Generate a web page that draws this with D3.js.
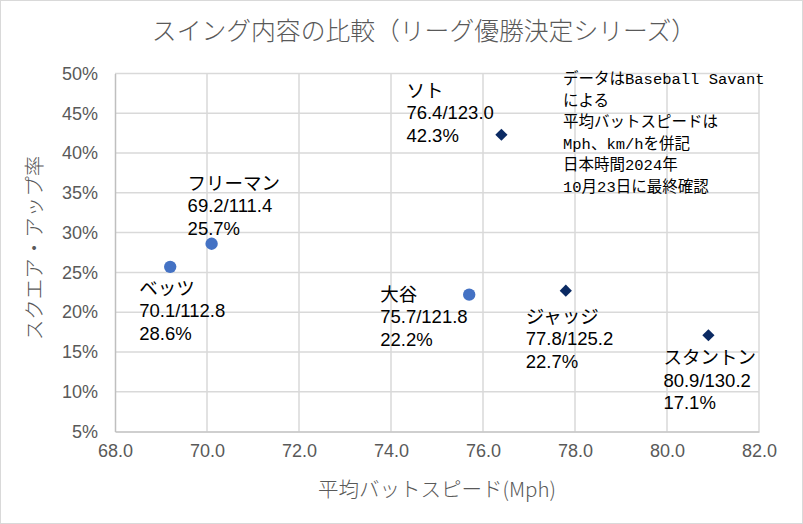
<!DOCTYPE html>
<html><head><meta charset="utf-8">
<script src="https://cdn.jsdelivr.net/npm/d3@7"></script>
<style>
body{margin:0;background:#fff;}
svg{display:block;}
</style></head>
<body>
<svg id="chart" width="803" height="524"></svg>
<script>
// ---- data ----
const players = ["ベッツ", "フリーマン", "大谷", "ソト", "ジャッジ", "スタントン"];
const batSpeedMph = [69.2, 70.1, 75.7, 76.4, 77.8, 80.9];
const squareUpRate = [25.7, 28.6, 22.2, 42.3, 22.7, 17.1];
const seriesGroup = ["NL", "NL", "NL", "AL", "AL", "AL"];
// label texts as shown on the chart (attached to each point)
const labelName = ["ベッツ", "フリーマン", "大谷", "ソト", "ジャッジ", "スタントン"];
const labelSpeed = ["70.1/112.8", "69.2/111.4", "75.7/121.8", "76.4/123.0", "77.8/125.2", "80.9/130.2"];
const labelRate = ["28.6%", "25.7%", "22.2%", "42.3%", "22.7%", "17.1%"];
const xTicks = [68, 70, 72, 74, 76, 78, 80, 82];
const yTicks = [5, 10, 15, 20, 25, 30, 35, 40, 45, 50];
const noteLines = ["データはBaseball Savant", "による", "平均バットスピードは", "Mph、km/hを併記", "日本時間2024年", "10月23日に最終確認"];
const titleText = "スイング内容の比較（リーグ優勝決定シリーズ）";
const xTitle = "平均バットスピード(Mph)";
const yTitle = "スクエア・アップ率";

// ---- layout ----
const W = 803, H = 524;
const plot = {left: 115, right: 759, top: 73.5, bottom: 431.5};
// label offsets relative to each point [dx, dy of first line center]
const labelOffset = [[-31, 21], [-24, -61], [-89, -1], [-95, -45], [-40, 25], [-45, 22]];

const svg = d3.select("#chart");
svg.append("rect").attr("x", 0.5).attr("y", 0.5).attr("width", W - 1).attr("height", H - 1)
  .attr("fill", "#fff").attr("stroke", "#D9D9D9");

const x = d3.scaleLinear().domain([68, 82]).range([plot.left, plot.right]);
const y = d3.scaleLinear().domain([5, 50]).range([plot.bottom, plot.top]);

// gridlines
svg.append("g").selectAll("line").data(yTicks.slice(1)).join("line")
  .attr("x1", plot.left).attr("x2", plot.right)
  .attr("y1", d => y(d)).attr("y2", d => y(d))
  .attr("stroke", "#D9D9D9").attr("stroke-width", 1.5);
svg.append("g").selectAll("line").data(xTicks.slice(1)).join("line")
  .attr("x1", d => x(d)).attr("x2", d => x(d))
  .attr("y1", plot.top).attr("y2", plot.bottom)
  .attr("stroke", "#D9D9D9").attr("stroke-width", 1.5);

// axes
const xAxis = svg.append("g").attr("transform", `translate(0,${plot.bottom})`)
  .call(d3.axisBottom(x).tickValues(xTicks).tickFormat(d3.format(".1f")).tickSize(0).tickPadding(13));
const yAxis = svg.append("g").attr("transform", `translate(${plot.left},0)`)
  .call(d3.axisLeft(y).tickValues(yTicks).tickFormat(d => d + "%").tickSize(0).tickPadding(17));
[xAxis, yAxis].forEach(g => {
  g.select(".domain").attr("stroke", "#BFBFBF").attr("stroke-width", 1.5);
  g.selectAll("text").attr("fill", "#595959").attr("font-family", "'Liberation Sans', Arial, sans-serif").attr("font-size", 18);
});

// points
const data = players.map((p, i) => ({i, p, xv: batSpeedMph[i], yv: squareUpRate[i], g: seriesGroup[i]}));
svg.append("g").selectAll("path").data(data).join("path")
  .attr("transform", d => `translate(${x(d.xv)},${y(d.yv)})`)
  .attr("d", d => d.g === "NL" ? d3.symbol(d3.symbolCircle, 120)() : d3.symbol(d3.symbolDiamond2, 95)())
  .attr("fill", d => d.g === "NL" ? "#4472C4" : "#0B2A63");

// data labels
const lbl = svg.append("g").attr("font-family", "'Liberation Sans', Arial, 'Noto Sans CJK JP', sans-serif")
  .attr("font-size", 18.5).attr("fill", "#000");
data.forEach(d => {
  const [dx, dy] = labelOffset[d.i];
  const t = lbl.append("text").attr("x", x(d.xv) + dx).attr("y", y(d.yv) + dy).attr("dominant-baseline", "central");
  [labelName[d.i], labelSpeed[d.i], labelRate[d.i]].forEach((s, k) => {
    t.append("tspan").attr("x", x(d.xv) + dx).attr("dy", k === 0 ? 0 : 22.5).text(s);
  });
});

// note
const note = svg.append("text").attr("font-family", "'Liberation Mono', 'Noto Sans CJK JP', monospace")
  .attr("font-size", 15.5).attr("fill", "#000").attr("dominant-baseline", "central");
noteLines.forEach((s, k) => {
  note.append("tspan").attr("x", 563).attr("y", 80 + k * 21.6).text(s);
});

// titles
svg.append("text").attr("x", 424).attr("y", 29).attr("text-anchor", "middle").attr("dominant-baseline", "central")
  .attr("font-family", "'Noto Sans CJK JP', sans-serif").attr("font-weight", 300).attr("font-size", 24.8).attr("fill", "#595959")
  .text(titleText);
svg.append("text").attr("x", 437).attr("y", 488).attr("text-anchor", "middle").attr("dominant-baseline", "central")
  .attr("font-family", "'Noto Sans CJK JP', sans-serif").attr("font-weight", 300).attr("font-size", 20.5).attr("fill", "#595959")
  .text(xTitle);
svg.append("text").attr("transform", "translate(33,248) rotate(-90)").attr("text-anchor", "middle").attr("dominant-baseline", "central")
  .attr("font-family", "'Noto Sans CJK JP', sans-serif").attr("font-weight", 300).attr("font-size", 20.5).attr("fill", "#595959")
  .text(yTitle);
</script>
</body></html>
